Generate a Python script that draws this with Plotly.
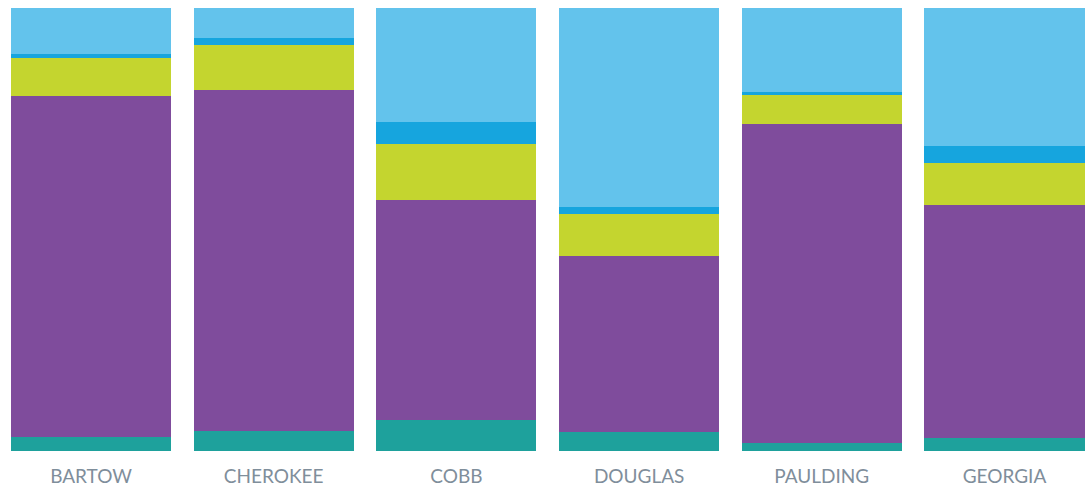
import plotly.graph_objects as go

categories = ["BARTOW", "CHEROKEE", "COBB", "DOUGLAS", "PAULDING", "GEORGIA"]

# shares (%) from bottom to top
seg_teal = [3.2, 4.5, 7.0, 4.3, 1.8, 2.9]
seg_purple = [77.0, 77.0, 49.7, 39.7, 72.0, 52.6]
seg_lime = [8.6, 10.2, 12.6, 9.5, 6.5, 9.5]
seg_darkblue = [0.9, 1.6, 5.0, 1.6, 0.7, 3.8]
seg_lightblue = [10.3, 6.7, 25.7, 44.9, 19.0, 31.2]

series = [
    ("Segment A", seg_teal, "#1EA19C"),
    ("Segment B", seg_purple, "#7F4C9C"),
    ("Segment C", seg_lime, "#C4D52F"),
    ("Segment D", seg_darkblue, "#16A5DE"),
    ("Segment E", seg_lightblue, "#63C3EC"),
]

fig = go.Figure()
for name, vals, color in series:
    fig.add_trace(go.Bar(
        x=list(range(len(categories))), y=vals, name=name,
        marker=dict(color=color, line=dict(width=0)),
        width=0.876,
    ))

fig.update_layout(
    barmode="stack",
    barnorm="percent",
    width=1088, height=489,
    margin=dict(l=0, r=0, t=8, b=38),
    paper_bgcolor="white", plot_bgcolor="white",
    showlegend=False,
    xaxis=dict(
        tickmode="array", tickvals=list(range(len(categories))), ticktext=categories,
        range=[-0.498, 5.457], showgrid=False, zeroline=False, showline=False,
        ticks="", ticklabelstandoff=12,
        tickfont=dict(family="Lato", size=19, color="#7F8E9B"),
    ),
    yaxis=dict(range=[0, 100], visible=False, showgrid=False, zeroline=False),
)

fig.write_html(
    "out.html",
    config={"displayModeBar": False},
    post_script="document.body.style.margin='0';document.body.style.overflow='hidden';",
)
